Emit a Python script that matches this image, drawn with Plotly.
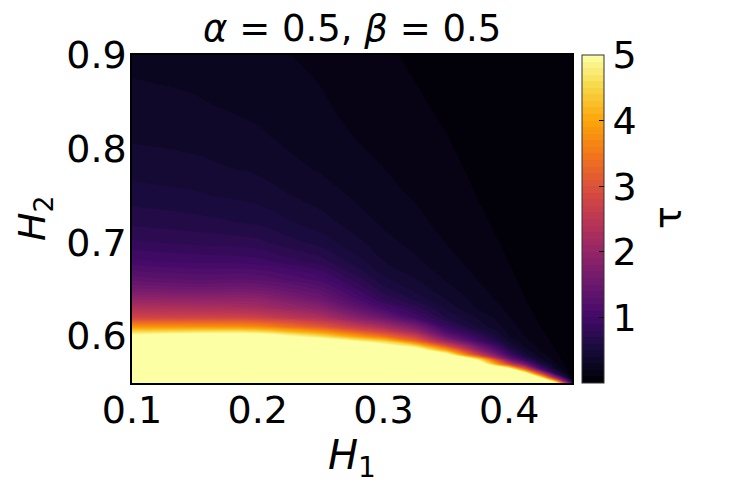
import plotly.graph_objects as go

# Grid
H1 = [0.10, 0.15, 0.20, 0.25, 0.30, 0.325, 0.35, 0.375, 0.40, 0.4125, 0.425, 0.4375, 0.45]
H2 = [0.55, 0.555, 0.56, 0.565, 0.57, 0.575, 0.58, 0.585, 0.59, 0.595,
      0.60, 0.605, 0.61, 0.62, 0.63, 0.64, 0.65, 0.66, 0.68, 0.70,
      0.72, 0.75, 0.78, 0.81, 0.85, 0.90]

# tau values, one row per H2 value (columns follow H1)
tau = [
    [6, 6, 6, 6, 6, 6, 6, 6, 6, 6, 6, 5.1, 1.0],                                  # 0.55
    [6, 6, 6, 6, 6, 6, 6, 6, 6, 6, 5.3, 2.2, 0],                                  # 0.555
    [6, 6, 6, 6, 6, 6, 6, 6, 6, 5.5, 2.9, 0.7, 0],                                # 0.56
    [6, 6, 6, 6, 6, 6, 6, 6, 5.3, 3.2, 1.15, 0.3, 0],                             # 0.565
    [6, 6, 6, 6, 6, 6, 6, 5.9, 2.8, 1.6, 0.6, 0.2, 0],                            # 0.57
    [6, 6, 6, 6, 6, 6, 6, 4.85, 1.6, 0.85, 0.33, 0.15, 0],                        # 0.575
    [6, 6, 6, 6, 6, 6, 5.4, 2.8, 1.0, 0.48, 0.25, 0.12, 0],                       # 0.58
    [6, 6, 6, 6, 6, 5.6, 4.0, 2.0, 0.7, 0.35, 0.19, 0.10, 0],                     # 0.585
    [6, 6, 6, 6, 5.3, 4.5, 2.85, 1.5, 0.48, 0.27, 0.16, 0.085, 0],                # 0.59
    [6, 6, 6, 5.5, 4.4, 3.3, 2.0, 1.0, 0.38, 0.23, 0.14, 0.075, 0],               # 0.595
    [5.2, 5.45, 5.45, 4.6, 3.4, 2.7, 1.45, 0.8, 0.30, 0.20, 0.125, 0.065, 0],     # 0.60
    [4.5, 4.6, 4.55, 3.8, 2.75, 2.1, 1.1, 0.63, 0.27, 0.18, 0.11, 0.058, 0],      # 0.605
    [3.8, 3.8, 3.7, 3.1, 2.25, 1.7, 0.87, 0.48, 0.245, 0.16, 0.10, 0.052, 0],     # 0.61
    [2.75, 2.75, 2.7, 2.3, 1.5, 1.0, 0.6, 0.39, 0.205, 0.135, 0.085, 0.044, 0],   # 0.62
    [2.35, 2.3, 2.2, 1.85, 1.05, 0.76, 0.475, 0.29, 0.175, 0.115, 0.073, 0.038, 0],  # 0.63
    [1.95, 1.92, 1.9, 1.5, 0.79, 0.57, 0.395, 0.255, 0.15, 0.102, 0.064, 0.033, 0],  # 0.64
    [1.62, 1.57, 1.58, 1.28, 0.635, 0.47, 0.337, 0.225, 0.133, 0.09, 0.057, 0.029, 0],  # 0.65
    [1.37, 1.30, 1.3, 1.07, 0.532, 0.41, 0.295, 0.20, 0.119, 0.082, 0.051, 0.026, 0],   # 0.66
    [1.025, 0.972, 0.941, 0.74, 0.402, 0.32, 0.236, 0.16, 0.098, 0.068, 0.042, 0.021, 0],  # 0.68
    [0.82, 0.776, 0.727, 0.56, 0.335, 0.27, 0.197, 0.135, 0.084, 0.058, 0.036, 0.018, 0],  # 0.70
    [0.683, 0.645, 0.59, 0.45, 0.285, 0.23, 0.169, 0.117, 0.073, 0.05, 0.031, 0.016, 0],   # 0.72
    [0.547, 0.515, 0.46, 0.35, 0.235, 0.19, 0.139, 0.098, 0.061, 0.042, 0.026, 0.013, 0],  # 0.75
    [0.456, 0.429, 0.378, 0.285, 0.20, 0.16, 0.118, 0.085, 0.053, 0.036, 0.022, 0.011, 0], # 0.78
    [0.39, 0.367, 0.32, 0.245, 0.165, 0.135, 0.103, 0.075, 0.046, 0.032, 0.02, 0.01, 0],   # 0.81
    [0.328, 0.308, 0.267, 0.21, 0.135, 0.108, 0.087, 0.065, 0.04, 0.028, 0.017, 0.009, 0], # 0.85
    [0.273, 0.257, 0.222, 0.18, 0.109, 0.09, 0.074, 0.055, 0.034, 0.025, 0.015, 0.008, 0], # 0.90
]

xticks = [0.1, 0.2, 0.3, 0.4]
yticks = [0.6, 0.7, 0.8, 0.9]
cticks = [1, 2, 3, 4, 5]

inferno = [
    [0.0, "#000004"], [0.1, "#160b39"], [0.2, "#420a68"], [0.3, "#6a176e"],
    [0.4, "#932667"], [0.5, "#bc3754"], [0.6, "#dd513a"], [0.7, "#f37819"],
    [0.8, "#fca50a"], [0.9, "#f6d746"], [1.0, "#fcffa4"],
]

FONT = "DejaVu Sans"
OFF = 8                      # page body margin of the html page
W, H = 747 - OFF, 493 - OFF
L, R, T, B = 132, 572, 55, 383   # plot area in page pixels
PW, PH = R - L, B - T

fig = go.Figure(go.Contour(
    x=H1, y=H2, z=tau,
    colorscale=inferno, zmin=0, zmax=5,
    autocontour=False,
    contours=dict(start=0, end=5, size=0.1, coloring="fill"),
    line=dict(width=0, smoothing=1.0),
    colorbar=dict(
        x=(582 - L) / PW, xanchor="left", xref="paper", xpad=0, ypad=0,
        y=0.5, yanchor="middle", len=1, lenmode="fraction",
        thickness=22, outlinewidth=1, outlinecolor="#333333",
        tickvals=cticks, ticktext=[str(v) for v in cticks],
        ticks="inside", ticklen=5, tickcolor="black",
        tickfont=dict(family=FONT, size=38, color="black"),
    ),
    hoverinfo="skip",
))

fig.update_layout(
    width=W, height=H,
    margin=dict(l=L - OFF, r=(747 - R), t=T - OFF, b=(493 - B), pad=0, autoexpand=False),
    paper_bgcolor="white", plot_bgcolor="white",
    font=dict(family=FONT, color="black"),
    xaxis=dict(range=[0.1, 0.45], tickvals=xticks, ticktext=[f"{v:.1f}" for v in xticks],
               showline=True, mirror=True, linecolor="black", linewidth=1.5,
               showgrid=False, zeroline=False, ticks="",
               tickfont=dict(family=FONT, size=38), ticklabelstandoff=-7),
    yaxis=dict(range=[0.55, 0.9], tickvals=yticks, ticktext=[f"{v:.1f}" for v in yticks],
               showline=True, mirror=True, linecolor="black", linewidth=1.5,
               showgrid=False, zeroline=False, ticks="",
               tickfont=dict(family=FONT, size=38), ticklabelstandoff=-4),
    annotations=[
        dict(text="<i>α</i> = 0.5, <i>β</i> = 0.5", xref="paper", yref="paper",
             x=0.5, y=1 + (T - 28) / PH, xanchor="center", yanchor="middle",
             showarrow=False, font=dict(family=FONT, size=37)),
        dict(text="<i>H</i><sub>1</sub>", xref="paper", yref="paper",
             x=0.5, y=(B - 458) / PH, xanchor="center", yanchor="middle",
             showarrow=False, font=dict(family=FONT, size=40)),
        dict(text="<i>H</i><sub>2</sub>", xref="paper", yref="paper",
             x=(34 - L) / PW, y=(B - 218) / PH, xanchor="center", yanchor="middle",
             textangle=-90, showarrow=False, font=dict(family=FONT, size=38)),
        dict(text="τ", xref="paper", yref="paper",
             x=(668 - L) / PW, y=(B - 218) / PH, xanchor="center", yanchor="middle",
             textangle=-90, showarrow=False, font=dict(family=FONT, size=38)),
    ],
)

fig.write_html("out.html")
